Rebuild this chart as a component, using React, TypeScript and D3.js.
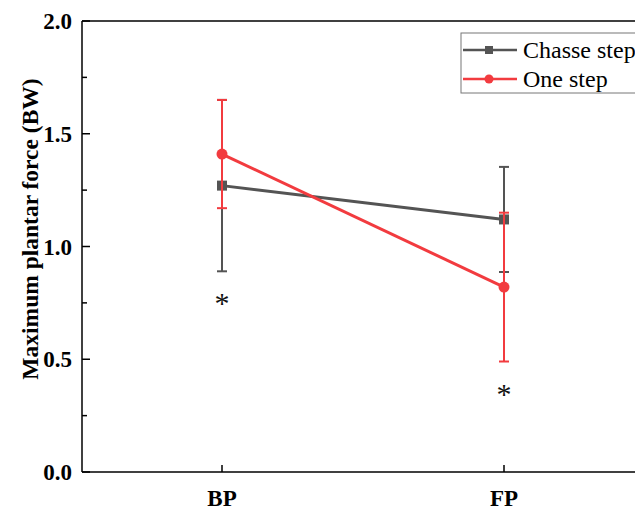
import React from "react";
import * as d3 from "d3";

const categories = ["BP", "FP"];
const chasseMean = [1.27, 1.12];
const chasseErr = [0.38, 0.233];
const oneMean = [1.41, 0.82];
const oneErr = [0.24, 0.33];
const starValues = [0.77, 0.368];
const yTicks = [0, 0.5, 1.0, 1.5, 2.0];
const yMinorTicks = [0.25, 0.75, 1.25, 1.75];
const seriesNames = ["Chasse step", "One step"];

const W = 635, H = 512;
const left = 82, top = 21, bottom = 472, right = 700;
const GREY = "#545454";
const RED = "#f23b3f";

export default function App() {
  const y = d3.scaleLinear().domain([0, 2]).range([bottom, top]);
  const x = d3.scalePoint().domain(categories).range([222, 504]);
  const line = d3.line<number>().x((_, i) => x(categories[i])!).y((d) => y(d));
  const font = "'Liberation Serif', 'Times New Roman', serif";

  const series = [
    { name: seriesNames[0], mean: chasseMean, err: chasseErr, color: GREY, marker: "square" },
    { name: seriesNames[1], mean: oneMean, err: oneErr, color: RED, marker: "circle" },
  ];

  return (
    <div style={{ position: "fixed", left: 0, top: 0 }}>
      <svg width={W} height={H} style={{ display: "block", background: "#fff" }}>
        <line x1={left} x2={right} y1={top} y2={top} stroke="#000" strokeWidth={1.5} />
        <line x1={left} x2={right} y1={bottom} y2={bottom} stroke="#000" strokeWidth={1.5} />
        <line x1={left} x2={left} y1={top} y2={bottom} stroke="#000" strokeWidth={1.5} />
        {yTicks.map((t) => (
          <g key={t}>
            <line x1={left} x2={left + 8} y1={y(t)} y2={y(t)} stroke="#000" strokeWidth={1.5} />
            <text x={left - 10} y={y(t)} dy="0.35em" textAnchor="end" fontFamily={font} fontWeight="bold" fontSize={23}>
              {t.toFixed(1)}
            </text>
          </g>
        ))}
        {yMinorTicks.map((t) => (
          <line key={t} x1={left} x2={left + 5} y1={y(t)} y2={y(t)} stroke="#000" strokeWidth={1.5} />
        ))}
        {categories.map((c) => (
          <g key={c}>
            <line x1={x(c)} x2={x(c)} y1={bottom} y2={bottom - 7} stroke="#000" strokeWidth={1.5} />
            <text x={x(c)} y={506} textAnchor="middle" fontFamily={font} fontWeight="bold" fontSize={23}>
              {c}
            </text>
          </g>
        ))}
        <text
          transform={`translate(30, ${229}) rotate(-90)`}
          textAnchor="middle"
          dy="0.35em"
          fontFamily={font}
          fontWeight="bold"
          fontSize={23.5}
        >
          Maximum plantar force (BW)
        </text>
        {series.map((s) => (
          <g key={s.name}>
            {s.mean.map((m, i) => {
              const cx = x(categories[i])!;
              return (
                <g key={i}>
                  <line x1={cx} x2={cx} y1={y(m - s.err[i])} y2={y(m + s.err[i])} stroke={s.color} strokeWidth={2} />
                  <line x1={cx - 5} x2={cx + 5} y1={y(m - s.err[i])} y2={y(m - s.err[i])} stroke={s.color} strokeWidth={2} />
                  <line x1={cx - 5} x2={cx + 5} y1={y(m + s.err[i])} y2={y(m + s.err[i])} stroke={s.color} strokeWidth={2} />
                </g>
              );
            })}
            <path d={line(s.mean)!} fill="none" stroke={s.color} strokeWidth={3} />
            {s.mean.map((m, i) => {
              const cx = x(categories[i])!;
              return s.marker === "square" ? (
                <rect key={i} x={cx - 5} y={y(m) - 5} width={10} height={10} fill={s.color} />
              ) : (
                <circle key={i} cx={cx} cy={y(m)} r={5.5} fill={s.color} />
              );
            })}
          </g>
        ))}
        {starValues.map((v, i) => (
          <text key={i} x={x(categories[i])} y={y(v)} dy="0.5em" textAnchor="middle" fontFamily={font} fontSize={30} fill="#111">
            *
          </text>
        ))}
        <rect x={461} y={33} width={200} height={60} fill="#fff" stroke="#777" strokeWidth={1} />
        {series.map((s, i) => {
          const ly = 50 + i * 29;
          return (
            <g key={s.name}>
              <line x1={463} x2={517} y1={ly} y2={ly} stroke={s.color} strokeWidth={2.5} />
              {s.marker === "square" ? (
                <rect x={485} y={ly - 4} width={8} height={8} fill={s.color} />
              ) : (
                <circle cx={489} cy={ly} r={4.5} fill={s.color} />
              )}
              <text x={523} y={ly} dy="0.33em" fontFamily={font} fontSize={24}>
                {s.name}
              </text>
            </g>
          );
        })}
      </svg>
    </div>
  );
}
